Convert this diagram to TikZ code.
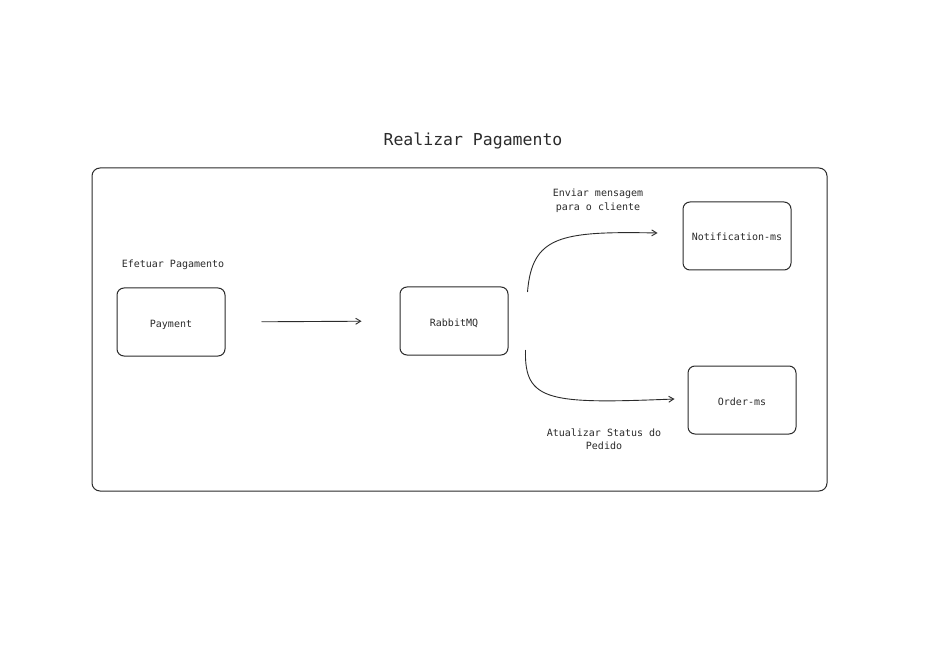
\documentclass[tikz,border=0pt]{standalone}
\usepackage{fontspec}
\setmonofont{DejaVu Sans Mono}
\usetikzlibrary{arrows.meta}
\definecolor{ink}{HTML}{2B2B2B}
\begin{document}
\begin{tikzpicture}[x=1pt,y=-1pt,
  every node/.style={font=\ttfamily\fontsize{10}{12}\selectfont, text=ink},
  svcbox/.style={draw=ink, line width=1pt, rounded corners=7pt, minimum width=108pt, minimum height=68pt, inner sep=0pt, text height=12pt, text depth=2pt},
  lbl/.style={align=center, inner sep=0pt},
  conn/.style={draw=ink, line width=0.9pt, -{Straight Barb[length=5pt,width=6pt]}}]
\useasboundingbox (0,0) rectangle (950,660);
\fill[white] (0,0) rectangle (950,660);
\node[draw=ink, line width=1pt, rounded corners=8pt, minimum width=735pt, minimum height=323pt, inner sep=0pt] (frame) at (459.5,329.5) {};
\node[lbl, font=\ttfamily\fontsize{16.5}{20}\selectfont] (title) at (473,141) {Realizar Pagamento};
\node[svcbox] (pay) at (171,322) {Payment};
\node[svcbox] (rab) at (454,321) {RabbitMQ};
\node[svcbox] (notif) at (737,236) {Notification-ms};
\node[svcbox] (order) at (742,400) {Order-ms};
\node[lbl] (efet) at (173,265) {Efetuar Pagamento};
\node[lbl, font=\ttfamily\fontsize{10}{14}\selectfont] (env) at (598,201) {Enviar mensagem\\para o cliente};
\node[lbl, font=\ttfamily\fontsize{10}{13.5}\selectfont] (atu) at (604,439) {Atualizar Status do\\Pedido};
\draw[conn, shorten <=36pt, shorten >=38pt] (pay.east) -- (rab.west);
\coordinate (upA) at ([xshift=19pt,yshift=29pt]rab.east);
\coordinate (upB) at ([xshift=-25pt,yshift=3pt]notif.west);
\draw[conn] (upA) .. controls (532,236) and (560,231) .. (upB);
\coordinate (dnA) at ([xshift=17pt,yshift=-29pt]rab.east);
\coordinate (dnB) at ([xshift=-13pt,yshift=1pt]order.west);
\draw[conn] (dnA) .. controls (524,402) and (550,404) .. (dnB);
\end{tikzpicture}
\end{document}
